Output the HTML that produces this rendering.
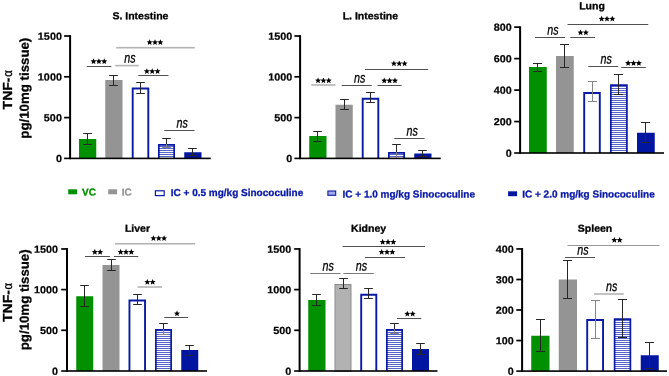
<!DOCTYPE html>
<html><head><meta charset="utf-8"><title>TNF-alpha</title>
<style>
html,body{margin:0;padding:0;background:#fff;}
body{width:669px;height:376px;overflow:hidden;font-family:"Liberation Sans",sans-serif;}
svg{display:block;will-change:transform;}
text{font-family:"Liberation Sans",sans-serif;}
.tk{font-size:10.3px;font-weight:bold;fill:#000;stroke:#000;stroke-width:0.2px;}
.tt{font-size:10.1px;font-weight:bold;fill:#000;stroke:#000;stroke-width:0.3px;}
.ns{font-size:14px;font-style:italic;fill:#000;stroke:#000;stroke-width:0.3px;}
.st{font-size:14px;font-weight:bold;fill:#000;}
.yl{font-size:13.4px;font-weight:bold;fill:#000;stroke:#000;stroke-width:0.3px;}
.lg{font-size:10px;font-weight:bold;stroke-width:0.3px;}
</style></head><body>
<svg width="669" height="376" viewBox="0 0 669 376">
<defs>
<pattern id="hatch" patternUnits="userSpaceOnUse" width="4" height="2">
<rect x="0" y="0" width="4" height="2" fill="#fff"/>
<rect x="0" y="0" width="4" height="0.9" fill="#4452c2"/>
</pattern>
</defs>
<rect x="0" y="0" width="669" height="376" fill="#fff"/>
<rect x="79" y="139" width="17.25" height="19.400000000000006" fill="#009000"/>
<rect x="105.25" y="80" width="17.25" height="78.4" fill="#949494"/>
<path d="M132.7 158.4V88.45H148.3V158.4" fill="#fff" stroke="#0a1aa6" stroke-width="1.9"/>
<path d="M158.85 158.4V144.85H174.15V158.4" fill="url(#hatch)" stroke="#0a1aa6" stroke-width="1.7"/>
<rect x="184.25" y="152.25" width="17.25" height="6.150000000000006" fill="#0016a0"/>
<path d="M87.5 133.5V144.5M83.2 133.5H91.8M83.2 144.5H91.8" stroke="#262626" stroke-width="1" fill="none"/>
<path d="M113.5 75.5V85.5M109.2 75.5H117.8M109.2 85.5H117.8" stroke="#262626" stroke-width="1" fill="none"/>
<path d="M140.5 82.5V93.5M136.2 82.5H144.8M136.2 93.5H144.8" stroke="#262626" stroke-width="1" fill="none"/>
<path d="M166.5 138.5V144M162.2 138.5H170.8" stroke="#262626" stroke-width="1" fill="none"/>
<path d="M166.5 144V147.5M162.2 147.5H170.8" stroke="#80808c" stroke-width="1" fill="none"/>
<path d="M192.5 148.5V155.5M188.2 148.5H196.8M188.2 155.5H196.8" stroke="#262626" stroke-width="1" fill="none"/>
<rect x="69.10" y="35.15" width="2.0" height="124.05" fill="#000"/>
<rect x="64.1" y="157.60" width="146.65" height="1.6" fill="#000"/>
<rect x="64.1" y="35.15" width="6.00" height="1.7" fill="#000"/>
<text transform="translate(61.9 39.70) rotate(0.05) scale(1.05 1)" text-anchor="end" class="tk">1500</text>
<rect x="64.1" y="75.95" width="6.00" height="1.7" fill="#000"/>
<text transform="translate(61.9 80.50) rotate(0.05) scale(1.05 1)" text-anchor="end" class="tk">1000</text>
<rect x="64.1" y="116.75" width="6.00" height="1.7" fill="#000"/>
<text transform="translate(61.9 121.30) rotate(0.05) scale(1.05 1)" text-anchor="end" class="tk">500</text>
<text transform="translate(61.9 162.10) rotate(0.05) scale(1.05 1)" text-anchor="end" class="tk">0</text>
<text transform="translate(140.4 19.25) rotate(0.05) scale(1.04 1)" text-anchor="middle" class="tt">S. Intestine</text>
<rect x="86.8" y="66.03" width="24.60" height="0.95" fill="#484848"/>
<polygon points="93.55,58.30 94.40,60.34 96.59,60.51 94.92,61.94 95.43,64.09 93.55,62.94 91.67,64.09 92.18,61.94 90.51,60.51 92.70,60.34" fill="#000"/>
<polygon points="98.90,58.30 99.75,60.34 101.94,60.51 100.27,61.94 100.78,64.09 98.90,62.94 97.02,64.09 97.53,61.94 95.86,60.51 98.05,60.34" fill="#000"/>
<polygon points="104.25,58.30 105.10,60.34 107.29,60.51 105.62,61.94 106.13,64.09 104.25,62.94 102.37,64.09 102.88,61.94 101.21,60.51 103.40,60.34" fill="#000"/>
<rect x="115.3" y="64.80" width="23.50" height="1.6" fill="#b4b4b4"/>
<text transform="translate(129.95 62.60) rotate(0.05) scale(0.77 1)" text-anchor="middle" class="ns">ns</text>
<rect x="116.2" y="46.90" width="78.60" height="1.6" fill="#b4b4b4"/>
<polygon points="149.65,39.20 150.50,41.24 152.69,41.41 151.02,42.84 151.53,44.99 149.65,43.84 147.77,44.99 148.28,42.84 146.61,41.41 148.80,41.24" fill="#000"/>
<polygon points="155.00,39.20 155.85,41.24 158.04,41.41 156.37,42.84 156.88,44.99 155.00,43.84 153.12,44.99 153.63,42.84 151.96,41.41 154.15,41.24" fill="#000"/>
<polygon points="160.35,39.20 161.20,41.24 163.39,41.41 161.72,42.84 162.23,44.99 160.35,43.84 158.47,44.99 158.98,42.84 157.31,41.41 159.50,41.24" fill="#000"/>
<rect x="138.3" y="75.03" width="30.10" height="0.95" fill="#484848"/>
<polygon points="146.85,68.15 147.70,70.19 149.89,70.36 148.22,71.79 148.73,73.94 146.85,72.79 144.97,73.94 145.48,71.79 143.81,70.36 146.00,70.19" fill="#000"/>
<polygon points="152.20,68.15 153.05,70.19 155.24,70.36 153.57,71.79 154.08,73.94 152.20,72.79 150.32,73.94 150.83,71.79 149.16,70.36 151.35,70.19" fill="#000"/>
<polygon points="157.55,68.15 158.40,70.19 160.59,70.36 158.92,71.79 159.43,73.94 157.55,72.79 155.67,73.94 156.18,71.79 154.51,70.36 156.70,70.19" fill="#000"/>
<rect x="164.25" y="130.03" width="30.25" height="0.95" fill="#484848"/>
<text transform="translate(182.28 127.50) rotate(0.05) scale(0.77 1)" text-anchor="middle" class="ns">ns</text>
<rect x="309.25" y="136" width="17.25" height="22.400000000000006" fill="#009000"/>
<rect x="335.5" y="104.75" width="17.25" height="53.650000000000006" fill="#949494"/>
<path d="M362.7 158.4V98.7H378.3V158.4" fill="#fff" stroke="#0a1aa6" stroke-width="1.9"/>
<path d="M388.85 158.4V152.85H404.15V158.4" fill="url(#hatch)" stroke="#0a1aa6" stroke-width="1.7"/>
<rect x="414.25" y="153.5" width="17.25" height="4.900000000000006" fill="#0016a0"/>
<path d="M317.5 131.5V141.5M313.2 131.5H321.8M313.2 141.5H321.8" stroke="#262626" stroke-width="1" fill="none"/>
<path d="M344.5 99.5V109.5M340.2 99.5H348.8M340.2 109.5H348.8" stroke="#262626" stroke-width="1" fill="none"/>
<path d="M370.5 92.5V102.5M366.2 92.5H374.8M366.2 102.5H374.8" stroke="#262626" stroke-width="1" fill="none"/>
<path d="M396.5 144.5V152M392.2 144.5H400.8" stroke="#262626" stroke-width="1" fill="none"/>
<path d="M396.5 152V157.9" stroke="#80808c" stroke-width="1" fill="none"/>
<path d="M422.5 150.5V156.5M418.2 150.5H426.8M418.2 156.5H426.8" stroke="#262626" stroke-width="1" fill="none"/>
<rect x="299.10" y="35.15" width="2.0" height="124.05" fill="#000"/>
<rect x="294.4" y="157.60" width="146.35" height="1.6" fill="#000"/>
<rect x="294.4" y="35.15" width="5.70" height="1.7" fill="#000"/>
<text transform="translate(292.2 39.70) rotate(0.05) scale(1.05 1)" text-anchor="end" class="tk">1500</text>
<rect x="294.4" y="75.95" width="5.70" height="1.7" fill="#000"/>
<text transform="translate(292.2 80.50) rotate(0.05) scale(1.05 1)" text-anchor="end" class="tk">1000</text>
<rect x="294.4" y="116.75" width="5.70" height="1.7" fill="#000"/>
<text transform="translate(292.2 121.30) rotate(0.05) scale(1.05 1)" text-anchor="end" class="tk">500</text>
<text transform="translate(292.2 162.10) rotate(0.05) scale(1.05 1)" text-anchor="end" class="tk">0</text>
<text transform="translate(370.4 19.25) rotate(0.05) scale(1.04 1)" text-anchor="middle" class="tt">L. Intestine</text>
<rect x="311.25" y="84.20" width="24.25" height="1.6" fill="#b4b4b4"/>
<polygon points="318.05,77.45 318.90,79.49 321.09,79.66 319.42,81.09 319.93,83.24 318.05,82.09 316.17,83.24 316.68,81.09 315.01,79.66 317.20,79.49" fill="#000"/>
<polygon points="323.40,77.45 324.25,79.49 326.44,79.66 324.77,81.09 325.28,83.24 323.40,82.09 321.52,83.24 322.03,81.09 320.36,79.66 322.55,79.49" fill="#000"/>
<polygon points="328.75,77.45 329.60,79.49 331.79,79.66 330.12,81.09 330.63,83.24 328.75,82.09 326.87,83.24 327.38,81.09 325.71,79.66 327.90,79.49" fill="#000"/>
<rect x="341.75" y="85.03" width="30.00" height="0.95" fill="#484848"/>
<text transform="translate(359.65 82.50) rotate(0.05) scale(0.77 1)" text-anchor="middle" class="ns">ns</text>
<rect x="365" y="69.03" width="63.25" height="0.95" fill="#484848"/>
<polygon points="393.90,60.45 394.75,62.49 396.94,62.66 395.27,64.09 395.78,66.24 393.90,65.09 392.02,66.24 392.53,64.09 390.86,62.66 393.05,62.49" fill="#000"/>
<polygon points="399.25,60.45 400.10,62.49 402.29,62.66 400.62,64.09 401.13,66.24 399.25,65.09 397.37,66.24 397.88,64.09 396.21,62.66 398.40,62.49" fill="#000"/>
<polygon points="404.60,60.45 405.45,62.49 407.64,62.66 405.97,64.09 406.48,66.24 404.60,65.09 402.72,66.24 403.23,64.09 401.56,62.66 403.75,62.49" fill="#000"/>
<rect x="377.5" y="85.03" width="24.25" height="0.95" fill="#484848"/>
<polygon points="384.25,77.55 385.10,79.59 387.29,79.76 385.62,81.19 386.13,83.34 384.25,82.19 382.37,83.34 382.88,81.19 381.21,79.76 383.40,79.59" fill="#000"/>
<polygon points="389.60,77.55 390.45,79.59 392.64,79.76 390.97,81.19 391.48,83.34 389.60,82.19 387.72,83.34 388.23,81.19 386.56,79.76 388.75,79.59" fill="#000"/>
<polygon points="394.95,77.55 395.80,79.59 397.99,79.76 396.32,81.19 396.83,83.34 394.95,82.19 393.07,83.34 393.58,81.19 391.91,79.76 394.10,79.59" fill="#000"/>
<rect x="394.25" y="138.03" width="30.25" height="0.95" fill="#484848"/>
<text transform="translate(412.27 135.50) rotate(0.05) scale(0.77 1)" text-anchor="middle" class="ns">ns</text>
<rect x="529" y="67" width="17.75" height="86.0" fill="#009000"/>
<rect x="556" y="56" width="17.75" height="97.0" fill="#949494"/>
<path d="M584.2 153.0V92.95H599.8V153.0" fill="#fff" stroke="#0a1aa6" stroke-width="1.9"/>
<path d="M610.85 153.0V85.1H626.9V153.0" fill="url(#hatch)" stroke="#0a1aa6" stroke-width="1.7"/>
<rect x="637" y="132.75" width="17.75" height="20.25" fill="#0016a0"/>
<path d="M537.5 63.5V71.5M533.0 63.5H542.0M533.0 71.5H542.0" stroke="#262626" stroke-width="1" fill="none"/>
<path d="M564.5 44.5V67.5M560.0 44.5H569.0M560.0 67.5H569.0" stroke="#262626" stroke-width="1" fill="none"/>
<path d="M592.5 81.5V101.5M588.0 81.5H597.0M588.0 101.5H597.0" stroke="#858585" stroke-width="1" fill="none"/>
<path d="M618.5 74.5V94.5M614.0 74.5H623.0M614.0 94.5H623.0" stroke="#262626" stroke-width="1" fill="none"/>
<path d="M645.5 122.5V142.5M641.0 122.5H650.0M641.0 142.5H650.0" stroke="#262626" stroke-width="1" fill="none"/>
<rect x="519.10" y="26.30" width="2.0" height="127.50" fill="#000"/>
<rect x="514.2" y="152.20" width="149.80" height="1.6" fill="#000"/>
<rect x="514.2" y="26.30" width="5.90" height="1.7" fill="#000"/>
<text transform="translate(511.8 30.85) rotate(0.05) scale(1.05 1)" text-anchor="end" class="tk">800</text>
<rect x="514.2" y="57.75" width="5.90" height="1.7" fill="#000"/>
<text transform="translate(511.8 62.30) rotate(0.05) scale(1.05 1)" text-anchor="end" class="tk">600</text>
<rect x="514.2" y="89.25" width="5.90" height="1.7" fill="#000"/>
<text transform="translate(511.8 93.80) rotate(0.05) scale(1.05 1)" text-anchor="end" class="tk">400</text>
<rect x="514.2" y="120.70" width="5.90" height="1.7" fill="#000"/>
<text transform="translate(511.8 125.25) rotate(0.05) scale(1.05 1)" text-anchor="end" class="tk">200</text>
<text transform="translate(511.8 156.70) rotate(0.05) scale(1.05 1)" text-anchor="end" class="tk">0</text>
<text transform="translate(592 9.25) rotate(0.05) scale(1.04 1)" text-anchor="middle" class="tt">Lung</text>
<rect x="535" y="37.02" width="30.00" height="0.95" fill="#484848"/>
<text transform="translate(552.90 34.50) rotate(0.05) scale(0.77 1)" text-anchor="middle" class="ns">ns</text>
<rect x="570.25" y="37.02" width="24.75" height="0.95" fill="#484848"/>
<polygon points="580.53,29.45 581.37,31.49 583.57,31.66 581.89,33.09 582.41,35.24 580.53,34.09 578.64,35.24 579.16,33.09 577.48,31.66 579.68,31.49" fill="#000"/>
<polygon points="585.88,29.45 586.72,31.49 588.92,31.66 587.24,33.09 587.76,35.24 585.88,34.09 583.99,35.24 584.51,33.09 582.83,31.66 585.03,31.49" fill="#000"/>
<rect x="567.5" y="24.02" width="80.75" height="0.95" fill="#484848"/>
<polygon points="601.65,15.70 602.50,17.74 604.69,17.91 603.02,19.34 603.53,21.49 601.65,20.34 599.77,21.49 600.28,19.34 598.61,17.91 600.80,17.74" fill="#000"/>
<polygon points="607.00,15.70 607.85,17.74 610.04,17.91 608.37,19.34 608.88,21.49 607.00,20.34 605.12,21.49 605.63,19.34 603.96,17.91 606.15,17.74" fill="#000"/>
<polygon points="612.35,15.70 613.20,17.74 615.39,17.91 613.72,19.34 614.23,21.49 612.35,20.34 610.47,21.49 610.98,19.34 609.31,17.91 611.50,17.74" fill="#000"/>
<rect x="588.25" y="66.03" width="30.00" height="0.95" fill="#484848"/>
<text transform="translate(606.15 63.50) rotate(0.05) scale(0.77 1)" text-anchor="middle" class="ns">ns</text>
<rect x="621.25" y="67.03" width="24.50" height="0.95" fill="#484848"/>
<polygon points="628.15,60.05 629.00,62.09 631.19,62.26 629.52,63.69 630.03,65.84 628.15,64.69 626.27,65.84 626.78,63.69 625.11,62.26 627.30,62.09" fill="#000"/>
<polygon points="633.50,60.05 634.35,62.09 636.54,62.26 634.87,63.69 635.38,65.84 633.50,64.69 631.62,65.84 632.13,63.69 630.46,62.26 632.65,62.09" fill="#000"/>
<polygon points="638.85,60.05 639.70,62.09 641.89,62.26 640.22,63.69 640.73,65.84 638.85,64.69 636.97,65.84 637.48,63.69 635.81,62.26 638.00,62.09" fill="#000"/>
<rect x="76.25" y="296.25" width="17.0" height="74.75" fill="#009000"/>
<rect x="102.5" y="265" width="17.0" height="106.0" fill="#949494"/>
<path d="M129.45 371.0V300.45H145.05V371.0" fill="#fff" stroke="#0a1aa6" stroke-width="1.9"/>
<path d="M155.85 371.0V329.85H171.15V371.0" fill="url(#hatch)" stroke="#0a1aa6" stroke-width="1.7"/>
<rect x="181.25" y="350" width="17.0" height="21.0" fill="#0016a0"/>
<path d="M84.5 285.5V306.5M80.2 285.5H88.8M80.2 306.5H88.8" stroke="#262626" stroke-width="1" fill="none"/>
<path d="M111.5 259.5V270.5M107.2 259.5H115.8M107.2 270.5H115.8" stroke="#262626" stroke-width="1" fill="none"/>
<path d="M137.5 294.5V304.5M133.2 294.5H141.8M133.2 304.5H141.8" stroke="#262626" stroke-width="1" fill="none"/>
<path d="M163.5 323.5V329M159.2 323.5H167.8" stroke="#262626" stroke-width="1" fill="none"/>
<path d="M163.5 329V334.5M159.2 334.5H167.8" stroke="#80808c" stroke-width="1" fill="none"/>
<path d="M189.5 345.5V355.5M185.2 345.5H193.8M185.2 355.5H193.8" stroke="#262626" stroke-width="1" fill="none"/>
<rect x="66.00" y="248.10" width="2.0" height="123.70" fill="#000"/>
<rect x="61.2" y="370.20" width="145.80" height="1.6" fill="#000"/>
<rect x="61.2" y="248.10" width="5.80" height="1.7" fill="#000"/>
<text transform="translate(58.0 252.65) rotate(0.05) scale(1.05 1)" text-anchor="end" class="tk">1500</text>
<rect x="61.2" y="288.75" width="5.80" height="1.7" fill="#000"/>
<text transform="translate(58.0 293.30) rotate(0.05) scale(1.05 1)" text-anchor="end" class="tk">1000</text>
<rect x="61.2" y="329.45" width="5.80" height="1.7" fill="#000"/>
<text transform="translate(58.0 334.00) rotate(0.05) scale(1.05 1)" text-anchor="end" class="tk">500</text>
<text transform="translate(58.0 374.70) rotate(0.05) scale(1.05 1)" text-anchor="end" class="tk">0</text>
<text transform="translate(137.5 231.75) rotate(0.05) scale(1.04 1)" text-anchor="middle" class="tt">Liver</text>
<rect x="85" y="256.02" width="25.00" height="0.95" fill="#484848"/>
<polygon points="94.83,248.85 95.67,250.89 97.87,251.06 96.19,252.49 96.71,254.64 94.83,253.49 92.94,254.64 93.46,252.49 91.78,251.06 93.98,250.89" fill="#000"/>
<polygon points="100.17,248.85 101.02,250.89 103.22,251.06 101.54,252.49 102.06,254.64 100.17,253.49 98.29,254.64 98.81,252.49 97.13,251.06 99.33,250.89" fill="#000"/>
<rect x="114" y="256.02" width="24.25" height="0.95" fill="#484848"/>
<polygon points="120.65,248.85 121.50,250.89 123.69,251.06 122.02,252.49 122.53,254.64 120.65,253.49 118.77,254.64 119.28,252.49 117.61,251.06 119.80,250.89" fill="#000"/>
<polygon points="126.00,248.85 126.85,250.89 129.04,251.06 127.37,252.49 127.88,254.64 126.00,253.49 124.12,254.64 124.63,252.49 122.96,251.06 125.15,250.89" fill="#000"/>
<polygon points="131.35,248.85 132.20,250.89 134.39,251.06 132.72,252.49 133.23,254.64 131.35,253.49 129.47,254.64 129.98,252.49 128.31,251.06 130.50,250.89" fill="#000"/>
<rect x="115" y="242.95" width="80.00" height="1.6" fill="#b4b4b4"/>
<polygon points="153.40,235.20 154.25,237.24 156.44,237.41 154.77,238.84 155.28,240.99 153.40,239.84 151.52,240.99 152.03,238.84 150.36,237.41 152.55,237.24" fill="#000"/>
<polygon points="158.75,235.20 159.60,237.24 161.79,237.41 160.12,238.84 160.63,240.99 158.75,239.84 156.87,240.99 157.38,238.84 155.71,237.41 157.90,237.24" fill="#000"/>
<polygon points="164.10,235.20 164.95,237.24 167.14,237.41 165.47,238.84 165.98,240.99 164.10,239.84 162.22,240.99 162.73,238.84 161.06,237.41 163.25,237.24" fill="#000"/>
<rect x="137.5" y="286.20" width="24.50" height="1.6" fill="#b4b4b4"/>
<polygon points="147.32,278.95 148.17,280.99 150.37,281.16 148.69,282.59 149.21,284.74 147.32,283.59 145.44,284.74 145.96,282.59 144.28,281.16 146.48,280.99" fill="#000"/>
<polygon points="152.68,278.95 153.52,280.99 155.72,281.16 154.04,282.59 154.56,284.74 152.68,283.59 150.79,284.74 151.31,282.59 149.63,281.16 151.83,280.99" fill="#000"/>
<rect x="164.25" y="317.02" width="23.75" height="0.95" fill="#484848"/>
<polygon points="177.00,310.45 177.85,312.49 180.04,312.66 178.37,314.09 178.88,316.24 177.00,315.09 175.12,316.24 175.63,314.09 173.96,312.66 176.15,312.49" fill="#000"/>
<rect x="308.25" y="300" width="17.25" height="71.0" fill="#009000"/>
<rect x="335.0" y="284.5" width="16.0" height="87.0" fill="#b2b2b2" stroke="#8c8c8c" stroke-width="1"/>
<path d="M361.2 371.0V294.7H376.3V371.0" fill="#fff" stroke="#0a1aa6" stroke-width="1.9"/>
<path d="M386.85 371.0V329.85H402.15V371.0" fill="url(#hatch)" stroke="#0a1aa6" stroke-width="1.7"/>
<rect x="412" y="349" width="17" height="22.0" fill="#0016a0"/>
<path d="M316.5 294.5V305.5M312.2 294.5H320.8M312.2 305.5H320.8" stroke="#262626" stroke-width="1" fill="none"/>
<path d="M343.5 278.5V288.5M339.2 278.5H347.8M339.2 288.5H347.8" stroke="#262626" stroke-width="1" fill="none"/>
<path d="M368.5 288.5V298.5M364.2 288.5H372.8M364.2 298.5H372.8" stroke="#262626" stroke-width="1" fill="none"/>
<path d="M394.5 323.5V329M390.2 323.5H398.8" stroke="#262626" stroke-width="1" fill="none"/>
<path d="M394.5 329V333.5M390.2 333.5H398.8" stroke="#80808c" stroke-width="1" fill="none"/>
<path d="M420.5 343.5V354.5M416.2 343.5H424.8M416.2 354.5H424.8" stroke="#262626" stroke-width="1" fill="none"/>
<rect x="298.60" y="248.10" width="2.0" height="123.70" fill="#000"/>
<rect x="294.15" y="370.20" width="143.35" height="1.6" fill="#000"/>
<rect x="294.15" y="248.10" width="5.45" height="1.7" fill="#000"/>
<text transform="translate(291.3 252.65) rotate(0.05) scale(1.05 1)" text-anchor="end" class="tk">1500</text>
<rect x="294.15" y="288.75" width="5.45" height="1.7" fill="#000"/>
<text transform="translate(291.3 293.30) rotate(0.05) scale(1.05 1)" text-anchor="end" class="tk">1000</text>
<rect x="294.15" y="329.45" width="5.45" height="1.7" fill="#000"/>
<text transform="translate(291.3 334.00) rotate(0.05) scale(1.05 1)" text-anchor="end" class="tk">500</text>
<text transform="translate(291.3 374.70) rotate(0.05) scale(1.05 1)" text-anchor="end" class="tk">0</text>
<text transform="translate(368.6 231.75) rotate(0.05) scale(1.04 1)" text-anchor="middle" class="tt">Kidney</text>
<rect x="310.25" y="273.00" width="30.25" height="1.0" fill="#7a7a7a"/>
<text transform="translate(328.27 270.50) rotate(0.05) scale(0.77 1)" text-anchor="middle" class="ns">ns</text>
<rect x="343.5" y="273.00" width="30.25" height="1.0" fill="#7a7a7a"/>
<text transform="translate(361.52 270.50) rotate(0.05) scale(0.77 1)" text-anchor="middle" class="ns">ns</text>
<rect x="342.5" y="246.03" width="82.50" height="0.95" fill="#484848"/>
<polygon points="382.65,238.85 383.50,240.89 385.69,241.06 384.02,242.49 384.53,244.64 382.65,243.49 380.77,244.64 381.28,242.49 379.61,241.06 381.80,240.89" fill="#000"/>
<polygon points="388.00,238.85 388.85,240.89 391.04,241.06 389.37,242.49 389.88,244.64 388.00,243.49 386.12,244.64 386.63,242.49 384.96,241.06 387.15,240.89" fill="#000"/>
<polygon points="393.35,238.85 394.20,240.89 396.39,241.06 394.72,242.49 395.23,244.64 393.35,243.49 391.47,244.64 391.98,242.49 390.31,241.06 392.50,240.89" fill="#000"/>
<rect x="365" y="257.02" width="40.00" height="0.95" fill="#484848"/>
<polygon points="381.65,248.95 382.50,250.99 384.69,251.16 383.02,252.59 383.53,254.74 381.65,253.59 379.77,254.74 380.28,252.59 378.61,251.16 380.80,250.99" fill="#000"/>
<polygon points="387.00,248.95 387.85,250.99 390.04,251.16 388.37,252.59 388.88,254.74 387.00,253.59 385.12,254.74 385.63,252.59 383.96,251.16 386.15,250.99" fill="#000"/>
<polygon points="392.35,248.95 393.20,250.99 395.39,251.16 393.72,252.59 394.23,254.74 392.35,253.59 390.47,254.74 390.98,252.59 389.31,251.16 391.50,250.99" fill="#000"/>
<rect x="397" y="318.02" width="24.25" height="0.95" fill="#484848"/>
<polygon points="407.32,310.70 408.17,312.74 410.37,312.91 408.69,314.34 409.21,316.49 407.32,315.34 405.44,316.49 405.96,314.34 404.28,312.91 406.48,312.74" fill="#000"/>
<polygon points="412.68,310.70 413.52,312.74 415.72,312.91 414.04,314.34 414.56,316.49 412.68,315.34 410.79,316.49 411.31,314.34 409.63,312.91 411.83,312.74" fill="#000"/>
<rect x="531.25" y="335.75" width="18.25" height="35.35000000000002" fill="#009000"/>
<rect x="558.75" y="279.5" width="18.25" height="91.60000000000002" fill="#949494"/>
<path d="M587.2 371.1V319.95H603.05V371.1" fill="#fff" stroke="#0a1aa6" stroke-width="1.9"/>
<path d="M614.6 371.1V319.15000000000003H630.4V371.1" fill="url(#hatch)" stroke="#0a1aa6" stroke-width="1.7"/>
<rect x="640.75" y="355.25" width="18.0" height="15.850000000000023" fill="#0016a0"/>
<path d="M540.5 319.5V351.5M536.0 319.5H545.0M536.0 351.5H545.0" stroke="#262626" stroke-width="1" fill="none"/>
<path d="M567.5 260.5V298.5M563.0 260.5H572.0M563.0 298.5H572.0" stroke="#262626" stroke-width="1" fill="none"/>
<path d="M595.5 300.5V338.5M591.0 300.5H600.0M591.0 338.5H600.0" stroke="#858585" stroke-width="1" fill="none"/>
<path d="M622.5 299.5V337.5M618.0 299.5H627.0M618.0 337.5H627.0" stroke="#262626" stroke-width="1" fill="none"/>
<path d="M649.5 342.5V368.5M645.0 342.5H654.0M645.0 368.5H654.0" stroke="#262626" stroke-width="1" fill="none"/>
<rect x="521.10" y="248.10" width="2.0" height="123.80" fill="#000"/>
<rect x="516.3" y="370.30" width="150.70" height="1.6" fill="#000"/>
<rect x="516.3" y="248.10" width="5.80" height="1.7" fill="#000"/>
<text transform="translate(513.8 252.65) rotate(0.05) scale(1.05 1)" text-anchor="end" class="tk">400</text>
<rect x="516.3" y="278.65" width="5.80" height="1.7" fill="#000"/>
<text transform="translate(513.8 283.20) rotate(0.05) scale(1.05 1)" text-anchor="end" class="tk">300</text>
<rect x="516.3" y="309.15" width="5.80" height="1.7" fill="#000"/>
<text transform="translate(513.8 313.70) rotate(0.05) scale(1.05 1)" text-anchor="end" class="tk">200</text>
<rect x="516.3" y="339.70" width="5.80" height="1.7" fill="#000"/>
<text transform="translate(513.8 344.25) rotate(0.05) scale(1.05 1)" text-anchor="end" class="tk">100</text>
<text transform="translate(513.8 374.80) rotate(0.05) scale(1.05 1)" text-anchor="end" class="tk">0</text>
<text transform="translate(595 231.75) rotate(0.05) scale(1.04 1)" text-anchor="middle" class="tt">Spleen</text>
<rect x="567.5" y="245.00" width="92.00" height="1.0" fill="#999"/>
<polygon points="614.33,236.95 615.17,238.99 617.37,239.16 615.69,240.59 616.21,242.74 614.33,241.59 612.44,242.74 612.96,240.59 611.28,239.16 613.48,238.99" fill="#000"/>
<polygon points="619.67,236.95 620.52,238.99 622.72,239.16 621.04,240.59 621.56,242.74 619.67,241.59 617.79,242.74 618.31,240.59 616.63,239.16 618.83,238.99" fill="#000"/>
<rect x="565" y="257.02" width="30.00" height="0.95" fill="#484848"/>
<text transform="translate(582.90 254.50) rotate(0.05) scale(0.77 1)" text-anchor="middle" class="ns">ns</text>
<rect x="594" y="293.20" width="29.75" height="1.6" fill="#b4b4b4"/>
<text transform="translate(611.77 291.00) rotate(0.05) scale(0.77 1)" text-anchor="middle" class="ns">ns</text>
<text transform="translate(12.1 109.4) rotate(-89.95) scale(1.07 1)" text-anchor="start" class="yl" style="font-size:13.1px">TNF-</text>
<text transform="translate(12.1 76.80) rotate(-89.95) scale(0.88 1)" text-anchor="start" class="yl" style="font-size:12.8px;font-weight:normal;stroke-width:0.3px">α</text>
<text transform="translate(28.7 88.2) rotate(-89.95) scale(1.02 1)" text-anchor="middle" class="yl" style="font-size:13px">pg/10mg tissue)</text>
<text transform="translate(12.1 322.0) rotate(-89.95) scale(1.07 1)" text-anchor="start" class="yl" style="font-size:13.1px">TNF-</text>
<text transform="translate(12.1 289.40) rotate(-89.95) scale(0.88 1)" text-anchor="start" class="yl" style="font-size:12.8px;font-weight:normal;stroke-width:0.3px">α</text>
<text transform="translate(28.7 299.8) rotate(-89.95) scale(1.02 1)" text-anchor="middle" class="yl" style="font-size:13px">pg/10mg tissue)</text>
<rect x="68.2" y="189.3" width="8.9" height="5" fill="#009000"/>
<text transform="translate(82 195.5) rotate(0.05)" class="lg" fill="#009000" stroke="#009000">VC</text>
<rect x="108.2" y="189.3" width="8.9" height="5" fill="#949494"/>
<text transform="translate(121.75 195.5) rotate(0.05)" class="lg" fill="#949494" stroke="#949494">IC</text>
<rect x="155.4" y="190.8" width="8.8" height="4.8" fill="#fff" stroke="#0a1aa6" stroke-width="1.2"/>
<text transform="translate(170.75 196) rotate(0.05)" class="lg" fill="#0a1aa6" stroke="#0a1aa6">IC + 0.5 mg/kg Sinococuline</text>
<rect x="327.9" y="191" width="7.8" height="4.3" fill="#a4abe6" stroke="#0a1aa6" stroke-width="1.1"/>
<text transform="translate(342.5 197.5) rotate(0.05)" class="lg" fill="#0a1aa6" stroke="#0a1aa6">IC + 1.0 mg/kg Sinococuline</text>
<rect x="508.1" y="191.3" width="9" height="4.9" fill="#0016a0"/>
<text transform="translate(522.2 197.5) rotate(0.05)" class="lg" fill="#0a1aa6" stroke="#0a1aa6">IC + 2.0 mg/kg Sinococuline</text>
</svg></body></html>
